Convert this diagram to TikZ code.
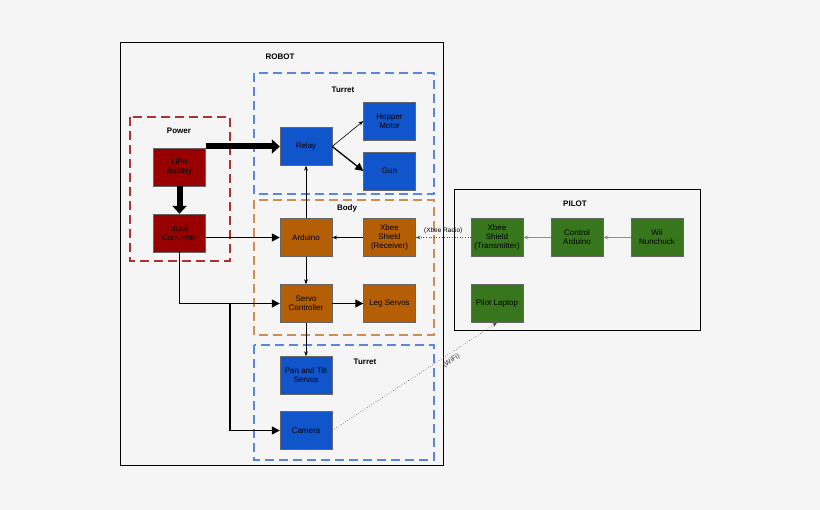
\documentclass[tikz,border=0pt]{standalone}
\usepackage{fontspec}
\setmainfont{Liberation Sans}
\usepackage{tikz}
\usetikzlibrary{arrows.meta, calc}

\definecolor{pwr}{HTML}{990000}
\definecolor{tur}{HTML}{1155CC}
\definecolor{bod}{HTML}{B45F06}
\definecolor{pil}{HTML}{38761D}

\tikzset{
  blk/.style={draw=black!60, minimum width=52pt, minimum height=38pt, inner sep=1pt,
    align=center, font=\fontsize{8}{9}\selectfont},
  grp/.style={dashed, line width=1.4pt, dash pattern=on 9pt off 5pt},
  ttl/.style={font=\bfseries\fontsize{8}{9}\selectfont},
  lnk/.style={-{Triangle[length=8pt,width=8pt]}, line width=1.3pt},
  thn/.style={-{Stealth[length=5pt]}, line width=0.6pt},
}

\begin{document}
\begin{tikzpicture}[x=1pt, y=-1pt]
        \fill[black!4] (0,0) rectangle (820,510);
        \useasboundingbox (0,0) rectangle (820,510);

        % frames
        \draw[line width=1pt] (120,43) rectangle (443,466);
        \node[ttl] at (280,57) {ROBOT};
        \draw[line width=1pt] (454,190) rectangle (700,331);
        \node[ttl] at (575,204) {PILOT};

        \draw[grp, draw=pwr!80] (130,117) rectangle (230,261);
        \node[ttl] at (179,131) {Power};
        \draw[grp, draw=tur!70] (254,73) rectangle (434,194);
        \node[ttl] at (343,90) {Turret};
        \draw[grp, draw=bod!70] (254,200) rectangle (434,335);
        \node[ttl] at (347,208) {Body};
        \draw[grp, draw=tur!70] (254,345) rectangle (434,460);
        \node[ttl] at (365,362) {Turret};

        % power
        \node[blk, fill=pwr] (lipo) at (179.5,167) {LiPo\\Battery};
        \node[blk, fill=pwr] (buck) at (179.5,233) {Buck\\Converter};

        % turret
        \node[blk, fill=tur] (relay) at (306,146.5) {Relay};
        \node[blk, fill=tur] (hopper) at (389.5,121) {Hopper\\Motor};
        \node[blk, fill=tur] (gun) at (389.5,171) {Gun};
        \node[blk, fill=tur] (pantilt) at (306,375.5) {Pan and Tilt\\Servos};
        \node[blk, fill=tur] (camera) at (306,430.5) {Camera};

        % body
        \node[blk, fill=bod] (arduino) at (306,237.5) {Arduino};
        \node[blk, fill=bod] (xbeerx) at (389.5,237.5) {Xbee\\Shield\\(Receiver)};
        \node[blk, fill=bod] (servoctl) at (306,303.5) {Servo\\Controller};
        \node[blk, fill=bod] (legs) at (389.5,303.5) {Leg Servos};

        % pilot
        \node[blk, fill=pil] (xbeetx) at (497,237.5) {Xbee\\Shield\\(Transmitter)};
        \node[blk, fill=pil] (ctlard) at (577,237.5) {Control\\Arduino};
        \node[blk, fill=pil] (wii) at (657,237.5) {Wii\\Nunchuck};
        \node[blk, fill=pil] (laptop) at (497,303.5) {Pilot Laptop};

        % power lines
        \draw[-{Triangle[length=8pt,width=14pt]}, line width=6pt] (lipo.east |- relay) -- (relay);
        \draw[-{Triangle[length=8pt,width=14pt]}, line width=6pt] (lipo) -- (buck);
        \draw[lnk] (buck.east |- arduino) -- (arduino);
        \draw[lnk] (buck.south) |- (servoctl.west);
        \coordinate (split) at (230,303.5);
        \draw[lnk] (split) |- (camera.west);

        % signals
        \draw[thn] (arduino) -- (relay);
        \draw[thn] (relay.east) -- (hopper.west);
        \draw[lnk] (relay.east) -- (gun.west);
        \draw[thn] (xbeerx) -- (arduino);
        \draw[thn] (arduino) -- (servoctl);
        \draw[lnk] (servoctl) -- (legs);
        \draw[thn, line width=1pt] (servoctl) -- (pantilt);
        \draw[thn, black!45] (ctlard) -- (xbeetx);
        \draw[thn, black!45] (wii) -- (ctlard);

        % wireless
        \draw[thn, dotted, black!70] (xbeetx) -- node[above, font=\fontsize{6.5}{7}\selectfont, black] {(Xbee Radio)} (xbeerx);
        \draw[thn, dotted, black!70] (camera.east) -- node[pos=0.7, below, sloped, font=\fontsize{7}{8}\selectfont, black!80] {(WiFi)} (laptop.south);
    \end{tikzpicture}
\end{document}
